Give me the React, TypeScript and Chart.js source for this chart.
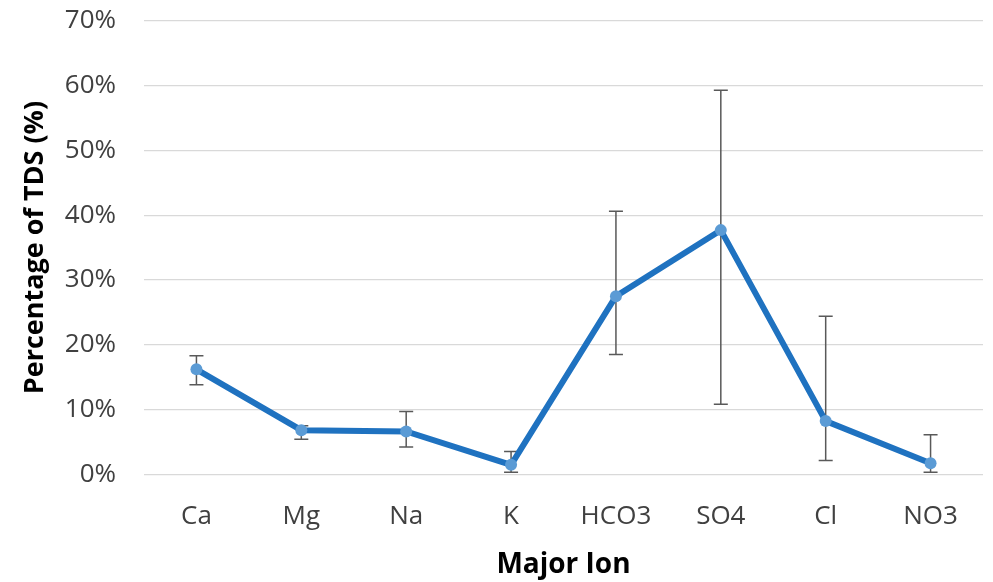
import React, { useEffect, useRef } from "react";
import { Chart, registerables } from "chart.js";

Chart.register(...registerables);

const categories = ["Ca", "Mg", "Na", "K", "HCO3", "SO4", "Cl", "NO3"];
const meanPct = [16.2, 6.8, 6.6, 1.45, 27.5, 37.7, 8.2, 1.7];
const errLowPct = [13.8, 5.4, 4.2, 0.3, 18.5, 10.8, 2.1, 0.3];
const errHighPct = [18.3, 7.5, 9.7, 3.5, 40.6, 59.3, 24.4, 6.1];
const yTicks = [0, 10, 20, 30, 40, 50, 60, 70];

const FONT = "'Open Sans', 'DejaVu Sans', sans-serif";

const errorBarPlugin = {
  id: "errorBars",
  beforeDatasetsDraw(chart: any) {
    const ctx = chart.ctx;
    const x = chart.scales.x;
    const y = chart.scales.y;
    ctx.save();
    ctx.strokeStyle = "#595959";
    ctx.lineWidth = 1.5;
    const cap = 7;
    categories.forEach((_, i) => {
      const px = x.getPixelForValue(i);
      const yl = y.getPixelForValue(errLowPct[i]);
      const yh = y.getPixelForValue(errHighPct[i]);
      ctx.beginPath();
      ctx.moveTo(px, yl);
      ctx.lineTo(px, yh);
      ctx.moveTo(px - cap, yl);
      ctx.lineTo(px + cap, yl);
      ctx.moveTo(px - cap, yh);
      ctx.lineTo(px + cap, yh);
      ctx.stroke();
    });
    ctx.restore();
  },
};

export default function App() {
  const ref = useRef<HTMLCanvasElement | null>(null);
  useEffect(() => {
    document.body.style.margin = "0";
    const canvas = ref.current;
    if (!canvas) return;
    const chart = new Chart(canvas, {
      type: "line",
      data: {
        labels: categories,
        datasets: [
          {
            data: meanPct,
            borderColor: "#1F72C0",
            borderWidth: 6,
            pointBackgroundColor: "#5B9BD5",
            pointBorderColor: "#5B9BD5",
            pointRadius: 6,
            pointBorderWidth: 0,
            tension: 0,
            fill: false,
          },
        ],
      },
      options: {
        responsive: false,
        animation: false,
        devicePixelRatio: 1,
        layout: { padding: { top: 21, right: 10, left: 0, bottom: 0 } },
        plugins: {
          legend: { display: false },
          tooltip: { enabled: false },
        },
        scales: {
          x: {
            offset: true,
            grid: { display: false, drawTicks: false },
            border: { display: false },
            ticks: {
              color: "#404040",
              font: { family: FONT, size: 26 },
              padding: 27,
            },
            title: {
              display: true,
              text: "Major Ion",
              color: "#000000",
              font: { family: FONT, size: 28, weight: "bold" },
              padding: { top: -11, bottom: 0 },
            },
          },
          y: {
            min: 0,
            max: 70,
            afterBuildTicks(scale: any) {
              scale.ticks = yTicks.map((v) => ({ value: v }));
            },
            afterFit(scale: any) {
              scale.width = 144;
              scale.paddingTop = 0;
              scale.paddingBottom = 0;
            },
            grid: { color: "#D9D9D9", lineWidth: 1.3, drawTicks: false },
            border: { display: false },
            ticks: {
              color: "#404040",
              font: { family: FONT, size: 26 },
              padding: 28,
              callback: (v: any) => v + "%",
            },
            title: {
              display: true,
              text: "Percentage of TDS (%)",
              color: "#000000",
              font: { family: FONT, size: 27, weight: "bold" },
              padding: { top: 19, bottom: 0 },
            },
          },
        },
      },
      plugins: [errorBarPlugin],
    });
    return () => chart.destroy();
  }, []);
  return (
    <div style={{ width: 993, height: 582, background: "#fff" }}>
      <canvas ref={ref} width={993} height={582} style={{ display: "block" }} />
    </div>
  );
}
